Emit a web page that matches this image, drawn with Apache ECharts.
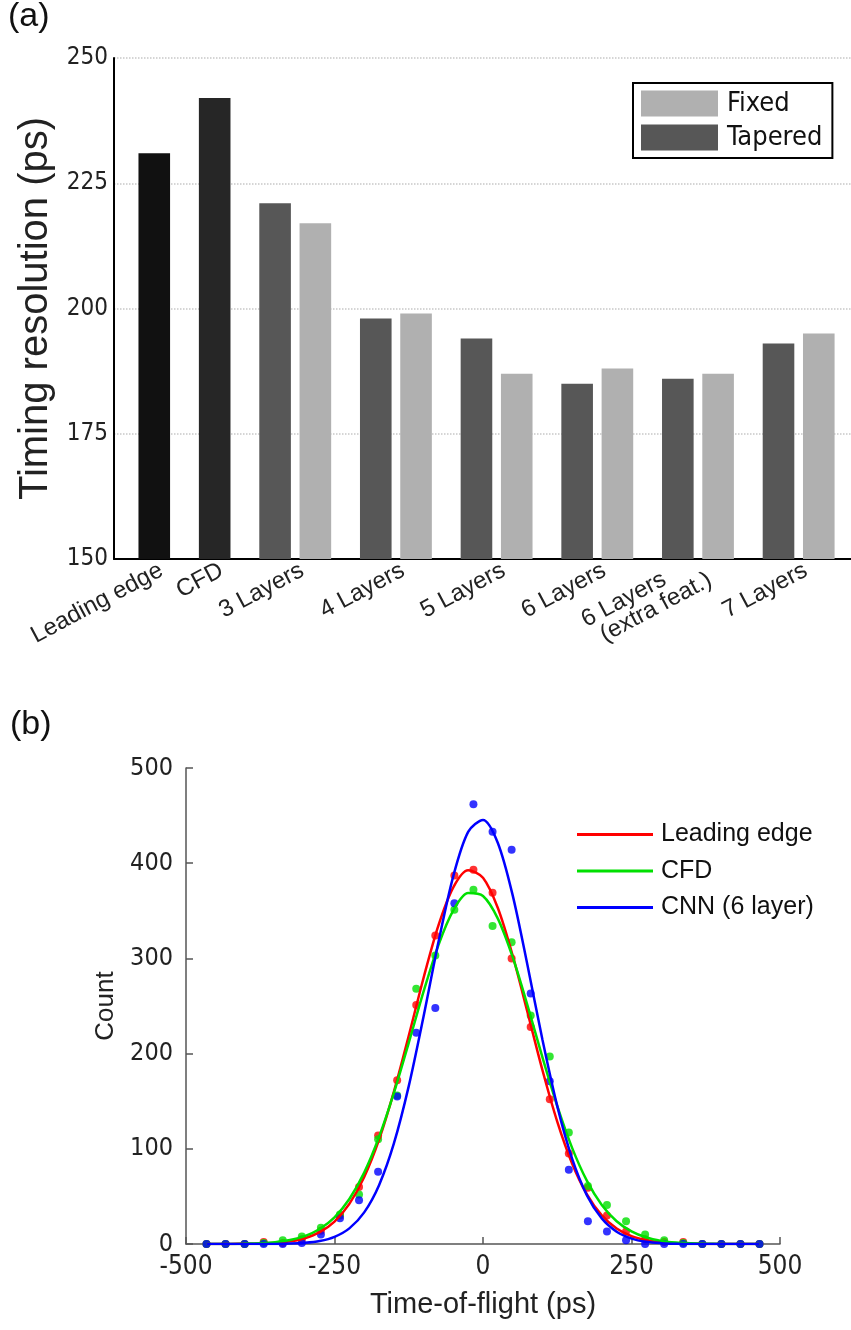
<!DOCTYPE html>
<html>
<head>
<meta charset="utf-8">
<script src="https://cdn.jsdelivr.net/npm/echarts@6/dist/echarts.min.js"></script>
<style>
  html, body { margin: 0; padding: 0; background: #fff; }
  #main { width: 851px; height: 1330px; }
</style>
</head>
<body>
<div id="main"></div>
<script>
// ---- panel (a): timing resolution bars ----
const barCategories = ['Leading edge', 'CFD', '3 Layers', '4 Layers', '5 Layers', '6 Layers', '6 Layers      \n(extra feat.)', '7 Layers'];
const leadingEdgeRes = 231;
const cfdRes = 242;
const taperedRes = [221, 198, 194, 185, 186, 193];
const fixedRes = [217, 199, 187, 188, 187, 195];

// ---- panel (b): time-of-flight histograms ----
const binCenters = [-465.5, -433.4, -401.3, -369.2, -337.1, -305.0, -272.9, -240.8, -208.7, -176.6,
    -144.5, -112.4, -80.3, -48.2, -16.1, 16.1, 48.2, 80.3, 112.4, 144.5,
    176.6, 208.7, 240.8, 272.9, 305.0, 337.1, 369.2, 401.3, 433.4, 465.5];
const countsLE = [0, 0, 0, 2, 1, 5, 14, 30, 60, 114, 172, 251, 324, 387, 393, 369, 300, 228, 152, 95, 59, 30, 13, 5, 2, 2, 0, 0, 0, 0];
const countsCFD = [0, 0, 0, 1, 4, 8, 17, 31, 52, 110, 156, 268, 303, 351, 372, 334, 317, 240, 197, 117, 61, 41, 24, 10, 4, 1, 0, 0, 0, 0];
const countsCNN = [0, 0, 0, 0, 0, 1, 10, 27, 46, 76, 155, 222, 248, 358, 462, 433, 414, 263, 171, 78, 24, 13, 4, 0, 0, 0, 0, 0, 0, 0];

// fitted curves
const fitX = [-465, -450, -425, -400, -375, -350, -325, -300, -275, -250, -225, -200, -175, -150, -125, -100, -75, -50, -25,
    0, 25, 50, 75, 100, 125, 150, 175, 200, 225, 250, 275, 300, 325, 350, 375, 400, 425, 450, 465];
const fitLE = [0, 0, 0.1, 0.2, 0.5, 1.2, 2.8, 6.1, 12.4, 23.6, 42.1, 70.3, 109.6, 160.1, 218.7, 279.7, 334.6, 374.6, 392.5,
    384.7, 352.9, 302.9, 243.3, 182.8, 128.6, 84.6, 52.1, 30.0, 16.2, 8.2, 3.9, 1.7, 0.7, 0.3, 0.1, 0, 0, 0, 0];
const fitCFD = [0, 0.1, 0.1, 0.4, 0.9, 1.9, 4.1, 8.3, 15.7, 28.0, 47.2, 75.0, 112.4, 158.7, 211.3, 265.3, 314.0, 350.4, 368.6,
    365.6, 341.8, 301.3, 250.5, 196.2, 145.0, 101.0, 66.3, 41.0, 23.9, 13.2, 6.8, 3.3, 1.5, 0.7, 0.3, 0.1, 0, 0, 0];
const fitCNN = [0, 0, 0, 0, 0, 0.1, 0.4, 1.2, 3.1, 7.5, 16.4, 33.2, 61.8, 105.6, 165.8, 239.2, 317.2, 386.5, 432.9,
    445.5, 421.3, 366.2, 292.5, 214.7, 144.8, 89.7, 51.1, 26.8, 12.9, 5.7, 2.3, 0.9, 0.3, 0.1, 0, 0, 0, 0, 0];

const zip = (xs, ys) => xs.map((x, i) => [x, ys[i]]);

// bar slots on a hidden value axis: LE, CFD, then pairs (tapered, fixed)
const lePos = 2, cfdPos = 5;
const taperedPos = taperedRes.map((v, i) => 8 + 5 * i);
const fixedPos = fixedRes.map((v, i) => 10 + 5 * i);
const labelPos = [lePos, cfdPos].concat(taperedPos.map(p => p + 1)).map(p => p + 0.35);

const sans = 'Liberation Sans, Arial, sans-serif';
const cond = 'DejaVu Sans Condensed, Liberation Sans, Arial, sans-serif';
const RED = '#ff0000', GREEN = '#00e000', BLUE = '#0000ff';

const chart = echarts.init(document.getElementById('main'), null, {renderer: 'canvas'});

const barBase = {
    type: 'bar', xAxisIndex: 0, yAxisIndex: 0,
    barWidth: 31.6, barGap: '-100%'
};

const option = {
    animation: false,
    backgroundColor: '#fff',
    textStyle: {fontFamily: sans},
    grid: [
        {left: 114, top: 58, width: 737, height: 501},
        {left: 186, top: 768, width: 594, height: 476}
    ],
    xAxis: [
        {
            gridIndex: 0, type: 'value', min: 0, max: 36.6,
            axisLine: {show: true, onZero: false, lineStyle: {color: '#000', width: 2}},
            axisTick: {show: false},
            splitLine: {show: false},
            axisLabel: {
                customValues: labelPos,
                rotate: 28, margin: 10,
                fontSize: 24, color: '#222', fontFamily: sans, lineHeight: 22,
                formatter: (val) => {
                    const i = labelPos.findIndex(p => Math.abs(p - val) < 0.01);
                    return i >= 0 ? barCategories[i] : '';
                }
            }
        },
        {
            gridIndex: 1, type: 'value', min: -500, max: 500, interval: 250,
            name: 'Time-of-flight (ps)', nameLocation: 'middle', nameGap: 46,
            nameTextStyle: {fontSize: 29, color: '#222', fontFamily: sans},
            axisLine: {show: true, onZero: false, lineStyle: {color: '#555', width: 1.5}},
            axisTick: {show: true, inside: true, length: 7, lineStyle: {color: '#555', width: 1.5}},
            splitLine: {show: false},
            axisLabel: {fontSize: 26, color: '#222', margin: 10, fontFamily: cond}
        }
    ],
    yAxis: [
        {
            gridIndex: 0, type: 'value', min: 150, max: 250, interval: 25,
            name: 'Timing resolution (ps)', nameLocation: 'middle', nameGap: 54,
            nameTextStyle: {fontSize: 40, color: '#222', fontFamily: sans},
            axisLine: {show: true, lineStyle: {color: '#000', width: 2}},
            axisTick: {show: false},
            splitLine: {show: true, lineStyle: {color: '#c8c8c8', type: 'dotted', width: 1.5}},
            axisLabel: {fontSize: 24, color: '#222', margin: 6, fontFamily: cond}
        },
        {
            gridIndex: 1, type: 'value', min: 0, max: 500, interval: 100,
            name: 'Count', nameLocation: 'middle', nameGap: 62,
            nameTextStyle: {fontSize: 26, color: '#222', fontFamily: sans},
            axisLine: {show: true, onZero: false, lineStyle: {color: '#555', width: 1.5}},
            axisTick: {show: true, inside: true, length: 7, lineStyle: {color: '#555', width: 1.5}},
            splitLine: {show: false},
            axisLabel: {fontSize: 25, color: '#222', margin: 13, fontFamily: cond}
        }
    ],
    legend: [
        {
            data: ['Fixed', 'Tapered'],
            orient: 'vertical', left: 633, top: 83,
            itemWidth: 77, itemHeight: 26, itemGap: 7, icon: 'rect',
            padding: [7, 10, 7, 8],
            borderColor: '#000', borderWidth: 2,
            textStyle: {fontSize: 27, color: '#111', fontFamily: cond, padding: [0, 0, 0, 4]},
            selectedMode: false
        },
        {
            data: ['Leading edge', 'CFD', 'CNN (6 layer)'],
            orient: 'vertical', left: 572, top: 817,
            itemWidth: 76, itemHeight: 3, itemGap: 11.5, icon: 'rect',
            textStyle: {fontSize: 25, color: '#111', lineHeight: 22, fontFamily: sans, padding: [0, 0, 0, 3]},
            selectedMode: false
        }
    ],
    graphic: [
        {type: 'text', left: 8, top: 0, style: {text: '(a)', fontSize: 34, fill: '#111', fontFamily: sans}},
        {type: 'text', left: 10, top: 708, style: {text: '(b)', fontSize: 34, fill: '#111', fontFamily: sans}}
    ],
    series: [
        Object.assign({}, barBase, {name: 'LE bar', data: [[lePos, leadingEdgeRes]], itemStyle: {color: '#111111'}}),
        Object.assign({}, barBase, {name: 'CFD bar', data: [[cfdPos, cfdRes]], itemStyle: {color: '#262626'}}),
        Object.assign({}, barBase, {name: 'Tapered', data: zip(taperedPos, taperedRes), itemStyle: {color: '#575757'}}),
        Object.assign({}, barBase, {name: 'Fixed', data: zip(fixedPos, fixedRes), itemStyle: {color: '#b0b0b0'}}),

        {name: 'LE points', type: 'scatter', xAxisIndex: 1, yAxisIndex: 1, data: zip(binCenters, countsLE),
            symbolSize: 8, itemStyle: {color: RED}, z: 3},
        {name: 'CFD points', type: 'scatter', xAxisIndex: 1, yAxisIndex: 1, data: zip(binCenters, countsCFD),
            symbolSize: 8, itemStyle: {color: GREEN}, z: 3},
        {name: 'CNN points', type: 'scatter', xAxisIndex: 1, yAxisIndex: 1, data: zip(binCenters, countsCNN),
            symbolSize: 8, itemStyle: {color: BLUE}, z: 3},

        {name: 'Leading edge', type: 'line', xAxisIndex: 1, yAxisIndex: 1, data: zip(fitX, fitLE),
            smooth: 0.3, showSymbol: false, symbol: 'none', lineStyle: {color: RED, width: 2.5}, itemStyle: {color: RED}, z: 4},
        {name: 'CFD', type: 'line', xAxisIndex: 1, yAxisIndex: 1, data: zip(fitX, fitCFD),
            smooth: 0.3, showSymbol: false, symbol: 'none', lineStyle: {color: GREEN, width: 2.5}, itemStyle: {color: GREEN}, z: 4},
        {name: 'CNN (6 layer)', type: 'line', xAxisIndex: 1, yAxisIndex: 1, data: zip(fitX, fitCNN),
            smooth: 0.3, showSymbol: false, symbol: 'none', lineStyle: {color: BLUE, width: 2.5}, itemStyle: {color: BLUE}, z: 4}
    ]
};

chart.setOption(option);
</script>
</body>
</html>
